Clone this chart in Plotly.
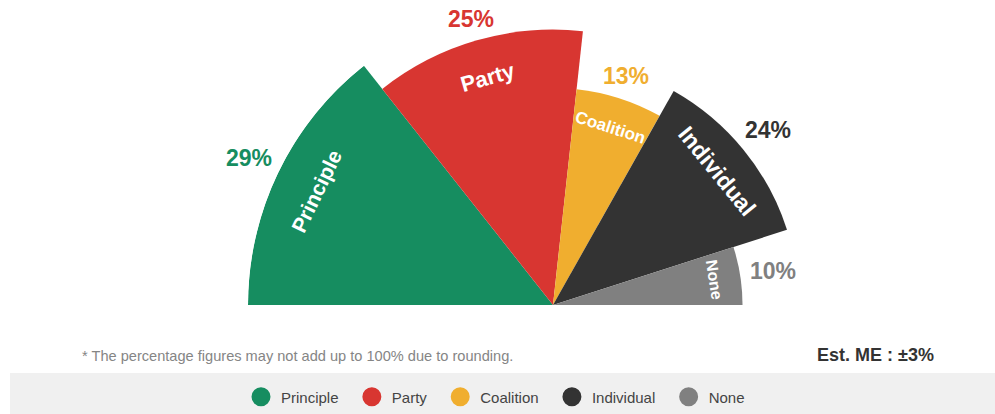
import math
import plotly.graph_objects as go

# ---- data ----
categories = ["Principle", "Party", "Coalition", "Individual", "None"]
values = [29, 25, 13, 24, 10]                 # percentages
radii = [309, 279, 220, 249, 192]             # wedge lengths (design scale)
pct_labels = ["29%", "25%", "13%", "24%", "10%"]
colors = ["#168D60", "#D83631", "#F0AE2F", "#333333", "#808080"]
label_sizes = [21, 22, 17, 23, 16]
footnote = "* The percentage figures may not add up to 100% due to rounding."
me_text = "Est. ME : ±3%"

W, H = 995, 414
CX, CY, RPX = 553, 305, 305          # polar centre and radius in px
RMAX = max(radii)
SCALE = RPX / RMAX
FONT = "Liberation Sans, Arial, sans-serif"

total = sum(values)
widths = [v * 180.0 / total for v in values]
mids = []
start = 180.0
for w in widths:
    mids.append(start - w / 2)
    start -= w

fig = go.Figure()
fig.add_trace(go.Barpolar(
    r=radii, theta=mids, width=widths,
    marker=dict(color=colors, line=dict(width=0)),
    showlegend=False, hoverinfo="skip",
))

# legend entries (circles)
PAD = "\u00a0" * 2
for i, (name, c) in enumerate(zip(categories, colors)):
    fig.add_trace(go.Scatterpolar(
        r=[None], theta=[None], mode="markers",
        name=name + (PAD if i < len(categories) - 1 else ""),
        marker=dict(symbol="circle", size=16, color=c, line=dict(color=c, width=3)),
    ))


def to_paper(r_px, t_deg):
    a = math.radians(t_deg)
    px = CX + r_px * math.cos(a)
    py = CY - r_px * math.sin(a)
    return px / W, 1 - py / H


annotations = []
# category labels inside wedges (rotated tangentially)
for name, r, t, fs in zip(categories, radii, mids, label_sizes):
    x, y = to_paper(r * 0.86 * SCALE, t)
    annotations.append(dict(
        x=x, y=y, xref="paper", yref="paper",
        text=name, showarrow=False, textangle=-(t - 90),
        font=dict(family=FONT, size=fs, color="white", weight="bold"),
        xanchor="center", yanchor="middle",
    ))

# percentage labels outside the wedges
for lab, r, t, c in zip(pct_labels, radii, mids, colors):
    a = math.radians(t)
    off = 8 + abs(math.cos(a)) * 24 + abs(math.sin(a)) * 8
    x, y = to_paper(r * SCALE + off, t)
    annotations.append(dict(
        x=x, y=y, xref="paper", yref="paper", text=lab, showarrow=False,
        xanchor="center", yanchor="middle",
        font=dict(family=FONT, size=23, color=c, weight="bold"),
    ))

annotations.append(dict(
    x=80 / W, y=1 - 356 / H, xref="paper", yref="paper", text=footnote,
    showarrow=False, xanchor="left", yanchor="middle",
    font=dict(family=FONT, size=14.6, color="#858585"),
))
annotations.append(dict(
    x=936 / W, y=1 - 355 / H, xref="paper", yref="paper", text=me_text,
    showarrow=False, xanchor="right", yanchor="middle",
    font=dict(family=FONT, size=18, color="#333333", weight="bold"),
))

fig.update_layout(
    width=W, height=H,
    margin=dict(l=0, r=0, t=0, b=0),
    paper_bgcolor="white", plot_bgcolor="white",
    polar=dict(
        domain=dict(x=[(CX - RPX) / W, (CX + RPX) / W], y=[1 - CY / H, 1]),
        sector=[0, 180],
        bgcolor="rgba(0,0,0,0)",
        radialaxis=dict(range=[0, RMAX], visible=False, showgrid=False),
        angularaxis=dict(visible=False, showgrid=False, direction="counterclockwise", rotation=0),
        bargap=0,
    ),
    shapes=[dict(type="rect", xref="paper", yref="paper",
                 x0=10 / W, x1=1, y0=0, y1=1 - 373 / H,
                 fillcolor="#F0F0F0", line=dict(width=0), layer="below")],
    showlegend=True,
    legend=dict(orientation="h", x=(261 - 20) / W, xanchor="left", y=1 - 397 / H, yanchor="middle",
                bgcolor="rgba(0,0,0,0)",
                font=dict(family=FONT, size=15, color="#444444")),
    annotations=annotations,
)

fig.write_html("out.html")
